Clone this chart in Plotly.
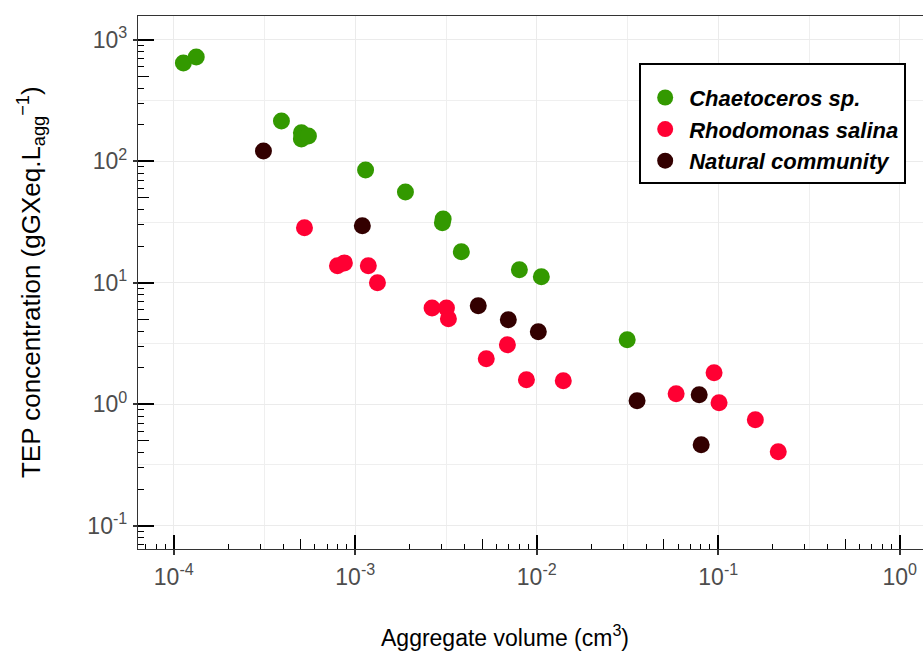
import numpy as np
import plotly.graph_objects as go

# ---- data ----
chaet_x = [1.13e-4, 1.33e-4, 3.92e-4, 5.05e-4, 5.05e-4, 5.52e-4, 1.14e-3, 1.89e-3,
           3.05e-3, 3.02e-3, 3.84e-3, 8.02e-3, 1.06e-2, 3.15e-2]
chaet_y = [647, 724, 215, 172, 153, 162, 85, 56, 33.6, 31.2, 18, 12.8, 11.2, 3.4]

rhodo_x = [5.25e-4, 7.98e-4, 8.71e-4, 1.18e-3, 1.325e-3, 2.65e-3, 3.18e-3, 3.26e-3,
           5.27e-3, 6.89e-3, 8.77e-3, 1.40e-2, 5.86e-2, 9.48e-2, 0.101, 0.160, 0.214]
rhodo_y = [28.4, 13.8, 14.6, 13.8, 10.0, 6.2, 6.2, 5.05, 2.37, 3.09, 1.59, 1.56,
           1.22, 1.82, 1.03, 0.745, 0.406]

natur_x = [3.12e-4, 1.094e-3, 4.76e-3, 6.97e-3, 1.02e-2, 3.57e-2, 7.85e-2, 8.05e-2]
natur_y = [122, 29.5, 6.47, 4.96, 3.95, 1.07, 1.20, 0.464]

series_names = ["Chaetoceros sp.", "Rhodomonas salina", "Natural community"]
series_colors = ["#339900", "#FF0033", "#330000"]

x_major = [1e-4, 1e-3, 1e-2, 1e-1, 1e0]
x_ticktext = ["10<sup>-4</sup>", "10<sup>-3</sup>", "10<sup>-2</sup>", "10<sup>-1</sup>", "10<sup>0</sup>"]
y_major = [1e-1, 1e0, 1e1, 1e2, 1e3]
y_ticktext = ["10<sup>-1</sup>", "10<sup>0</sup>", "10<sup>1</sup>", "10<sup>2</sup>", "10<sup>3</sup>"]

FONT = "Liberation Sans, Arial, sans-serif"

def short_ticks(lo, hi):
    return [m * 10.0 ** k for k in range(lo, hi) for m in (2, 3, 4, 6, 7, 8, 9)]

def mid_ticks(lo, hi):
    return [5 * 10.0 ** k for k in range(lo, hi)]

def half_decades(lo, hi):
    return [10.0 ** (k + 0.5) for k in range(lo, hi)]

xr = [-4.197, 0.128]
yr = [-1.192, 3.1975]

fig = go.Figure()
for xs, ys, nm, col in zip([chaet_x, rhodo_x, natur_x], [chaet_y, rhodo_y, natur_y],
                           series_names, series_colors):
    fig.add_trace(go.Scatter(x=xs, y=ys, mode="markers", name=nm,
                             marker=dict(size=17, color=col, line=dict(width=0))))

common_x = dict(type="log", range=xr, zeroline=False, showticklabels=False,
                showgrid=False, overlaying="x", anchor="y", side="bottom")
common_y = dict(type="log", range=yr, zeroline=False, showticklabels=False,
                showgrid=False, overlaying="y", anchor="x", side="left")

fig.update_layout(
    width=923, height=652,
    margin=dict(l=137.5, r=0, t=16, b=102.7),
    paper_bgcolor="white", plot_bgcolor="white",
    font=dict(family=FONT),
    showlegend=True,
    xaxis=dict(type="log", range=xr, tickmode="array", tickvals=x_major, ticktext=x_ticktext,
               ticks="inside", ticklen=14, tickwidth=1.5, tickcolor="black",
               tickfont=dict(size=23, color="#4D4D4D", family=FONT),
               ticklabelstandoff=7,
               showgrid=True, gridcolor="#EBEBEB", gridwidth=1.4,
               showline=True, linecolor="#333333", linewidth=1.3, mirror=True,
               zeroline=False,
               minor=dict(tickmode="array", tickvals=short_ticks(-5, 1), ticks="inside",
                          ticklen=5, tickwidth=1.3, tickcolor="black", showgrid=False)),
    xaxis2=dict(common_x, tickmode="array", tickvals=x_major, ticks="outside", ticklen=5,
                tickwidth=1.5, tickcolor="#333333",
                minor=dict(tickmode="array", tickvals=half_decades(-5, 1), ticks="",
                           showgrid=True, gridcolor="#EFEFEF", gridwidth=1.1)),
    xaxis3=dict(common_x, tickmode="array", tickvals=mid_ticks(-5, 1), ticks="inside",
                ticklen=10, tickwidth=1.3, tickcolor="black"),
    yaxis=dict(type="log", range=yr, tickmode="array", tickvals=y_major, ticktext=y_ticktext,
               ticks="inside", ticklen=16, tickwidth=1.5, tickcolor="black",
               tickfont=dict(size=23, color="#4D4D4D", family=FONT),
               ticklabelstandoff=5,
               showgrid=True, gridcolor="#EBEBEB", gridwidth=1.4,
               showline=True, linecolor="#333333", linewidth=1.3, mirror=False,
               zeroline=False,
               minor=dict(tickmode="array", tickvals=short_ticks(-2, 4), ticks="inside",
                          ticklen=6, tickwidth=1.3, tickcolor="black", showgrid=False)),
    yaxis2=dict(common_y, tickmode="array", tickvals=y_major, ticks="outside", ticklen=4,
                tickwidth=1.5, tickcolor="#333333",
                minor=dict(tickmode="array", tickvals=half_decades(-2, 4), ticks="",
                           showgrid=True, gridcolor="#EFEFEF", gridwidth=1.1)),
    yaxis3=dict(common_y, tickmode="array", tickvals=mid_ticks(-2, 4), ticks="inside",
                ticklen=11, tickwidth=1.3, tickcolor="black"),
    legend=dict(x=(639 - 137.5) / 785.5, y=(549.3 - 63) / 533.3, xanchor="left", yanchor="top",
                bgcolor="white", bordercolor="black", borderwidth=2,
                font=dict(size=22, color="black", family=FONT, weight="bold", style="italic"),
                title=dict(text=" ", font=dict(size=9)),
                itemsizing="trace", itemwidth=38),
    annotations=[
        dict(text="Aggregate volume (cm<sup>3</sup>)", xref="paper", yref="paper",
             x=(505 - 137.5) / 785.5, y=(549.3 - 636) / 533.3, xanchor="center",
             yanchor="middle", showarrow=False, font=dict(size=23, color="black", family=FONT)),
        dict(text="TEP concentration (gGXeq.L<sub>agg</sub><sup>\u22121</sup>)", xref="paper",
             yref="paper", x=(30 - 137.5) / 785.5, y=0.5, xanchor="center", yanchor="middle",
             textangle=-90, showarrow=False, font=dict(size=26, color="black", family=FONT)),
    ],
)

# invisible helper traces so the overlay axes are realised
for xa, ya in [("x2", "y2"), ("x3", "y3")]:
    fig.add_trace(go.Scatter(x=[None], y=[None], xaxis=xa, yaxis=ya, showlegend=False,
                             hoverinfo="skip", mode="markers"))

fig.write_html("out.html")
